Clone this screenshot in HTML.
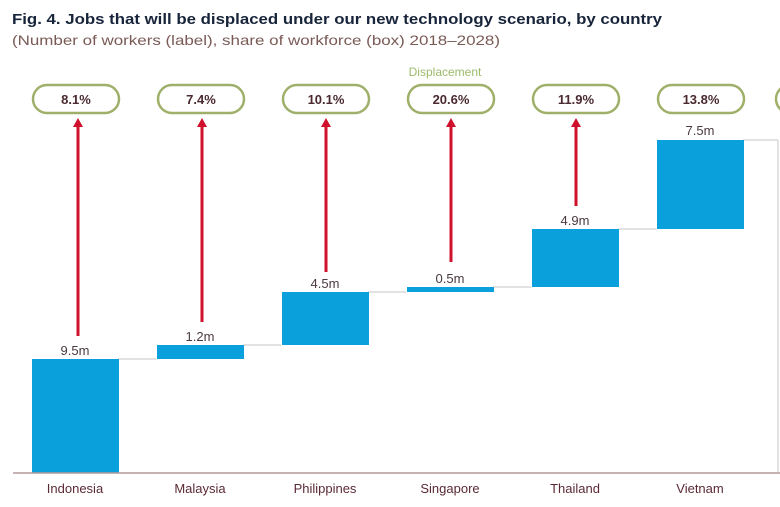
<!DOCTYPE html>
<html><head><meta charset="utf-8"><style>
html,body{margin:0;padding:0;background:#fff;}
svg{display:block;font-family:"Liberation Sans",Arial,sans-serif;}
</style></head><body>
<svg width="780" height="507" viewBox="0 0 780 507" xmlns="http://www.w3.org/2000/svg">
<text x="12" y="24" font-size="15" font-weight="bold" fill="#17243a" textLength="650" lengthAdjust="spacingAndGlyphs">Fig. 4. Jobs that will be displaced under our new technology scenario, by country</text>
<text x="12" y="45" font-size="14" fill="#7a5a55" textLength="488" lengthAdjust="spacingAndGlyphs">(Number of workers (label), share of workforce (box) 2018–2028)</text>
<text x="445" y="76" font-size="12" fill="#9cba6a" text-anchor="middle">Displacement</text>

<g stroke="#d8d8d8" stroke-width="1.5">
<line x1="118" y1="359" x2="156" y2="359"/>
<line x1="243" y1="345" x2="281" y2="345"/>
<line x1="368" y1="292" x2="406" y2="292"/>
<line x1="493" y1="287" x2="531" y2="287"/>
<line x1="618" y1="229" x2="656" y2="229"/>
<line x1="743" y1="140" x2="778" y2="140"/>
<line x1="778" y1="140" x2="778" y2="473"/>
</g>
<g fill="#0aa0dc">
<rect x="32" y="359" width="87" height="114"/>
<rect x="157" y="345" width="87" height="14"/>
<rect x="282" y="292" width="87" height="53"/>
<rect x="407" y="287" width="87" height="5"/>
<rect x="532" y="229" width="87" height="58"/>
<rect x="657" y="140" width="87" height="89"/>
</g>
<line x1="13" y1="473" x2="780" y2="473" stroke="#b59a9a" stroke-width="1.5"/>

<g stroke="#d0112b" stroke-width="3">
<line x1="78" y1="336" x2="78" y2="124"/>
<line x1="202" y1="322" x2="202" y2="124"/>
<line x1="326" y1="272" x2="326" y2="124"/>
<line x1="451" y1="262" x2="451" y2="124"/>
<line x1="576" y1="206" x2="576" y2="124"/>
</g>
<g fill="#d0112b">
<polygon points="73,127 78,118 83,127"/>
<polygon points="197,127 202,118 207,127"/>
<polygon points="321,127 326,118 331,127"/>
<polygon points="446,127 451,118 456,127"/>
<polygon points="571,127 576,118 581,127"/>
</g>

<g fill="#fff" stroke="#9fb06a" stroke-width="2.5">
<rect x="33" y="85" width="86" height="28" rx="14"/>
<rect x="158" y="85" width="86" height="28" rx="14"/>
<rect x="283" y="85" width="86" height="28" rx="14"/>
<rect x="408" y="85" width="86" height="28" rx="14"/>
<rect x="533" y="85" width="86" height="28" rx="14"/>
<rect x="658" y="85" width="86" height="28" rx="14"/>
<rect x="776" y="85" width="40" height="28" rx="14"/>
</g>
<g font-size="13" font-weight="bold" fill="#4a2a30" text-anchor="middle">
<text x="76" y="104">8.1%</text>
<text x="201" y="104">7.4%</text>
<text x="326" y="104">10.1%</text>
<text x="451" y="104">20.6%</text>
<text x="576" y="104">11.9%</text>
<text x="701" y="104">13.8%</text>
</g>
<g font-size="13" fill="#4a3a3e" text-anchor="middle">
<text x="75" y="355">9.5m</text>
<text x="200" y="341">1.2m</text>
<text x="325" y="288">4.5m</text>
<text x="450" y="283">0.5m</text>
<text x="575" y="225">4.9m</text>
<text x="700" y="135">7.5m</text>
</g>
<g font-size="13" fill="#5a2a35" text-anchor="middle">
<text x="75" y="493">Indonesia</text>
<text x="200" y="493">Malaysia</text>
<text x="325" y="493">Philippines</text>
<text x="450" y="493">Singapore</text>
<text x="575" y="493">Thailand</text>
<text x="700" y="493">Vietnam</text>
</g>
</svg>
</body></html>
